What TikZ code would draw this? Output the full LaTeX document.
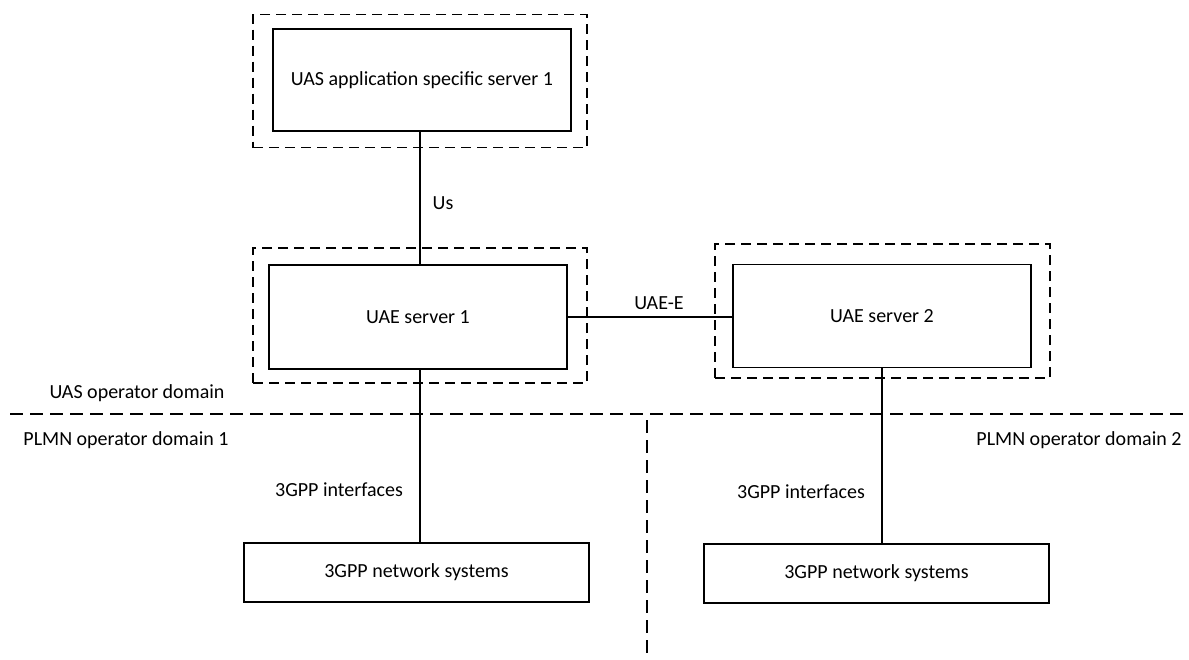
\documentclass[tikz,border=0pt]{standalone}
\usepackage{fontspec}
\setmainfont{Carlito}
\begin{document}
\begin{tikzpicture}[x=1pt,y=-1pt,
  every node/.style={font=\fontsize{20}{23}\selectfont, inner sep=0pt},
  box/.style={draw, line width=1.4pt, rectangle},
  frame/.style={draw, line width=1.3pt, rectangle, dash pattern=on 10pt off 6pt},
  conn/.style={line width=1.5pt},
  domline/.style={line width=1.5pt, dash pattern=on 13pt off 7pt}]
\useasboundingbox (0,0) rectangle (1189,659);
% outer dashed frames
\node[frame, minimum width=334pt, minimum height=133pt] (asfr) at (420,81) {};
\node[frame, minimum width=334pt, minimum height=135pt] (u1fr) at (420,315.5) {};
\node[frame, minimum width=335pt, minimum height=134pt] (u2fr) at (882.5,311) {};
% boxes
\node[box, minimum width=298pt, minimum height=102pt] (as) at (422,80) {UAS application specific server 1};
\node[box, minimum width=298pt, minimum height=104pt] (uae1) at (418,317) {UAE server 1};
\node[box, minimum width=298pt, minimum height=103pt] (uae2) at (882,316) {UAE server 2};
\node[box, minimum width=345pt, minimum height=59pt] (net1) at (416.5,572.5) {3GPP network systems};
\node[box, minimum width=345pt, minimum height=59pt] (net2) at (876.5,573.5) {3GPP network systems};
% domain separators
\coordinate (hl) at (10,414);
\coordinate (hr) at (1189,414);
\coordinate (vt) at (647,420);
\coordinate (vb) at (647,659);
\draw[domline] (hl) -- (hr);
\draw[domline] (vt) -- (vb);
% connectors
\coordinate (usx) at (420,0);
\draw[conn] (as.south -| usx) -- (uae1.north -| usx);
\draw[conn] (uae1.east) -- (uae2.west |- uae1.east);
\draw[conn] (uae1.south -| usx) -- (net1.north -| usx);
\draw[conn] (uae2.south) -- (uae2.south |- net2.north);
% labels
\node (lus) at (443,203) {Us};
\node (lue) at (659,303) {UAE-E};
\node (lif1) at (339,490) {3GPP interfaces};
\node (lif2) at (801,492) {3GPP interfaces};
\node (luas) at (137,393) {UAS operator domain};
\node (lp1) at (126,440) {PLMN operator domain 1};
\node (lp2) at (1079,440) {PLMN operator domain 2};
\end{tikzpicture}
\end{document}
